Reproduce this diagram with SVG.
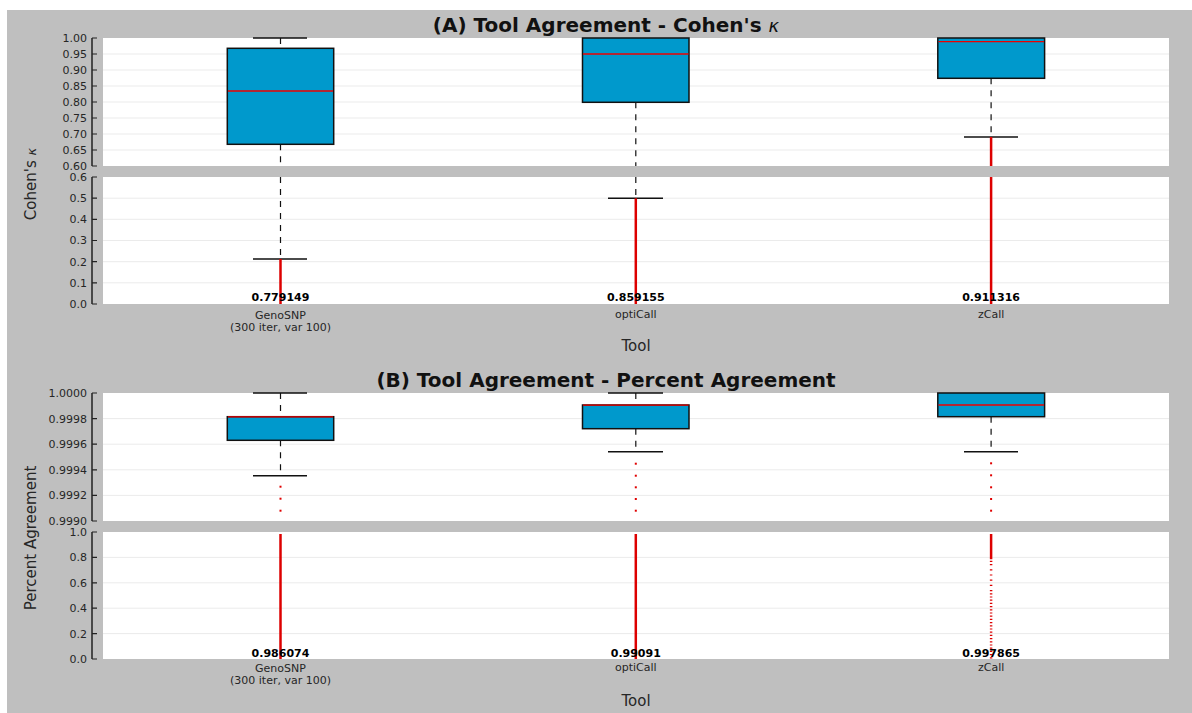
<svg xmlns="http://www.w3.org/2000/svg" width="1192" height="713" viewBox="0 0 1192 713">
<style>
.bg{fill:#bfbfbf}
.plot{fill:#ffffff}
.grid{stroke:#ebebeb;stroke-width:1;fill:none}
.spine{stroke:#222;stroke-width:1.5;fill:none}
.tick{stroke:#222;stroke-width:1.2;fill:none}
.tl{font-family:"DejaVu Sans","Liberation Sans",sans-serif;font-size:11px;fill:#262626;text-anchor:end}
.xl{font-family:"DejaVu Sans","Liberation Sans",sans-serif;font-size:11px;fill:#262626;text-anchor:middle}
.val{font-family:"DejaVu Sans","Liberation Sans",sans-serif;font-size:11px;font-weight:bold;fill:#000;text-anchor:middle}
.ax{font-family:"DejaVu Sans","Liberation Sans",sans-serif;font-size:15px;fill:#262626;text-anchor:middle}
.title{font-family:"DejaVu Sans","Liberation Sans",sans-serif;font-size:20px;font-weight:bold;fill:#111;text-anchor:middle}
.kap{font-family:"DejaVu Sans",sans-serif;font-style:italic;font-weight:normal}
.box{fill:#0099cc;stroke:#111;stroke-width:1.5}
.med{stroke:#ee0000;stroke-width:1.3;fill:none}
.wh{stroke:#111;stroke-width:1.2;stroke-dasharray:6 6;fill:none}
.cap{stroke:#111;stroke-width:1.5;fill:none}
.fl{stroke:#dd0000;stroke-width:2.5;fill:none}
.dot{fill:#e00000}
</style>
<rect class="bg" x="7" y="10" width="1185" height="703"/>

<g id="panelA">
  <text class="title" x="606" y="32">(A) Tool Agreement - Cohen's <tspan class="kap" font-size="18px">κ</tspan></text>
  <rect class="plot" x="103" y="38" width="1066" height="128"/>
  <rect class="plot" x="103" y="177" width="1066" height="127"/>
  <g class="grid-lines">
    <path class="grid" d="M103 54H1169M103 70H1169M103 86H1169M103 102H1169M103 118H1169M103 134H1169M103 150H1169"/>
    <path class="grid" d="M103 198.2H1169M103 219.3H1169M103 240.5H1169M103 261.7H1169M103 282.8H1169"/>
  </g>
  <g id="axisA">
    <path class="spine" d="M92 38V166M92 177V304"/>
    <path class="tick" d="M92 38H97M92 54H97M92 70H97M92 86H97M92 102H97M92 118H97M92 134H97M92 150H97M92 166H97"/>
    <path class="tick" d="M92 177H97M92 198.2H97M92 219.3H97M92 240.5H97M92 261.7H97M92 282.8H97M92 304H97"/>
    <text class="tl" x="87" y="42">1.00</text>
    <text class="tl" x="87" y="58">0.95</text>
    <text class="tl" x="87" y="74">0.90</text>
    <text class="tl" x="87" y="90">0.85</text>
    <text class="tl" x="87" y="106">0.80</text>
    <text class="tl" x="87" y="122">0.75</text>
    <text class="tl" x="87" y="138">0.70</text>
    <text class="tl" x="87" y="154">0.65</text>
    <text class="tl" x="87" y="170">0.60</text>
    <text class="tl" x="87" y="181">0.6</text>
    <text class="tl" x="87" y="202">0.5</text>
    <text class="tl" x="87" y="223">0.4</text>
    <text class="tl" x="87" y="244">0.3</text>
    <text class="tl" x="87" y="266">0.2</text>
    <text class="tl" x="87" y="287">0.1</text>
    <text class="tl" x="87" y="308">0.0</text>
    <text class="ax" transform="translate(36 184) rotate(-90)">Cohen's <tspan class="kap" font-size="13px">κ</tspan></text>
    <text class="xl" x="280.5" y="319">GenoSNP</text>
    <text class="xl" x="280.5" y="331">(300 iter, var 100)</text>
    <text class="xl" x="635.8" y="318">optiCall</text>
    <text class="xl" x="991.1" y="318">zCall</text>
    <text class="ax" x="636" y="351">Tool</text>
  </g>
  <g id="A-GenoSNP">
    <path class="wh" d="M280.5 38V48.3M280.5 144.3V166M280.5 177V259"/>
    <path class="cap" d="M253 38H307M253 259H307"/>
    <rect class="box" x="227.3" y="48.3" width="106.4" height="96"/>
    <path class="med" d="M228 91H333"/>
    <path class="fl" d="M280.5 259V304"/>
    <text class="val" x="280.5" y="301">0.779149</text>
  </g>
  <g id="A-optiCall">
    <path class="wh" d="M635.8 102.3V166M635.8 177V198.3"/>
    <path class="cap" d="M608 198.3H663"/>
    <rect class="box" x="582.5" y="38" width="106.5" height="64.3"/>
    <path class="med" d="M583 54H688.5"/>
    <path class="fl" d="M635.8 198.3V304"/>
    <text class="val" x="635.8" y="301">0.859155</text>
  </g>
  <g id="A-zCall">
    <path class="wh" d="M991.1 78.3V137"/>
    <path class="cap" d="M964 137H1018"/>
    <rect class="box" x="937.8" y="38" width="106.8" height="40.3"/>
    <path class="med" d="M938.5 41.7H1044"/>
    <path class="fl" d="M991.1 137V166M991.1 177V304"/>
    <text class="val" x="991.1" y="301">0.911316</text>
  </g>
</g>

<g id="panelB">
  <text class="title" x="606" y="387">(B) Tool Agreement - Percent Agreement</text>
  <rect class="plot" x="103" y="393" width="1066" height="128"/>
  <rect class="plot" x="103" y="532" width="1066" height="127"/>
  <g class="grid-lines">
    <path class="grid" d="M103 418.6H1169M103 444.2H1169M103 469.8H1169M103 495.4H1169"/>
    <path class="grid" d="M103 557.4H1169M103 582.8H1169M103 608.2H1169M103 633.6H1169"/>
  </g>
  <g id="axisB">
    <path class="spine" d="M92 393V521M92 532V659"/>
    <path class="tick" d="M92 393H97M92 418.6H97M92 444.2H97M92 469.8H97M92 495.4H97M92 521H97"/>
    <path class="tick" d="M92 532H97M92 557.4H97M92 582.8H97M92 608.2H97M92 633.6H97M92 659H97"/>
    <text class="tl" x="87" y="397">1.0000</text>
    <text class="tl" x="87" y="422.6">0.9998</text>
    <text class="tl" x="87" y="448.2">0.9996</text>
    <text class="tl" x="87" y="473.8">0.9994</text>
    <text class="tl" x="87" y="499.4">0.9992</text>
    <text class="tl" x="87" y="525">0.9990</text>
    <text class="tl" x="87" y="536">1.0</text>
    <text class="tl" x="87" y="561.4">0.8</text>
    <text class="tl" x="87" y="586.8">0.6</text>
    <text class="tl" x="87" y="612.2">0.4</text>
    <text class="tl" x="87" y="637.6">0.2</text>
    <text class="tl" x="87" y="663">0.0</text>
    <text class="ax" transform="translate(36 538) rotate(-90)">Percent Agreement</text>
    <text class="xl" x="280.5" y="672">GenoSNP</text>
    <text class="xl" x="280.5" y="684">(300 iter, var 100)</text>
    <text class="xl" x="635.8" y="671">optiCall</text>
    <text class="xl" x="991.1" y="671">zCall</text>
    <text class="ax" x="636" y="706">Tool</text>
  </g>
  <g id="B-GenoSNP">
    <path class="wh" d="M280.5 393V416.7M280.5 440.3V475.7"/>
    <path class="cap" d="M253 393H307M253 475.7H307"/>
    <rect class="box" x="227.3" y="416.7" width="106.4" height="23.6"/>
    <path class="med" d="M228 416.9H333"/>
    <rect class="dot" x="279.5" y="485.7" width="2" height="2"/>
    <rect class="dot" x="279.5" y="497.7" width="2" height="2"/>
    <rect class="dot" x="279.5" y="509.7" width="2" height="2"/>
    <path class="fl" stroke-width="2" d="M280.5 534V659"/>
    <text class="val" x="280.5" y="657">0.986074</text>
  </g>
  <g id="B-optiCall">
    <path class="wh" d="M635.8 393V405M635.8 428.7V451.7"/>
    <path class="cap" d="M608 393H663M608 451.7H663"/>
    <rect class="box" x="582.5" y="405" width="106.5" height="23.7"/>
    <path class="med" d="M583 405.2H688.5"/>
    <rect class="dot" x="634.8" y="462.7" width="2" height="2"/>
    <rect class="dot" x="634.8" y="474.7" width="2" height="2"/>
    <rect class="dot" x="634.8" y="486.3" width="2" height="2"/>
    <rect class="dot" x="634.8" y="498" width="2" height="2"/>
    <rect class="dot" x="634.8" y="509.7" width="2" height="2"/>
    <path class="fl" stroke-width="2" d="M635.8 534V659"/>
    <text class="val" x="635.8" y="657">0.99091</text>
  </g>
  <g id="B-zCall">
    <path class="wh" d="M991.1 416.7V451.7"/>
    <path class="cap" d="M964 451.7H1018"/>
    <rect class="box" x="937.8" y="393" width="106.8" height="23.7"/>
    <path class="med" d="M938.5 405H1044"/>
    <rect class="dot" x="990.1" y="462.3" width="2" height="2"/>
    <rect class="dot" x="990.1" y="474.3" width="2" height="2"/>
    <rect class="dot" x="990.1" y="486.3" width="2" height="2"/>
    <rect class="dot" x="990.1" y="498" width="2" height="2"/>
    <rect class="dot" x="990.1" y="509.7" width="2" height="2"/>
    <path class="fl" stroke-width="2" d="M991.1 534V558"/>
    <path class="fl" stroke-width="1.6" stroke-dasharray="1.2 1.5" d="M991.1 558V562"/>
    <path class="fl" stroke-width="1.6" stroke-dasharray="1.2 4" d="M991.1 564V590"/>
    <path class="fl" stroke-width="1.6" stroke-dasharray="1.2 2" d="M991.1 590V659"/>
    <text class="val" x="991.1" y="657">0.997865</text>
  </g>
</g>
</svg>
